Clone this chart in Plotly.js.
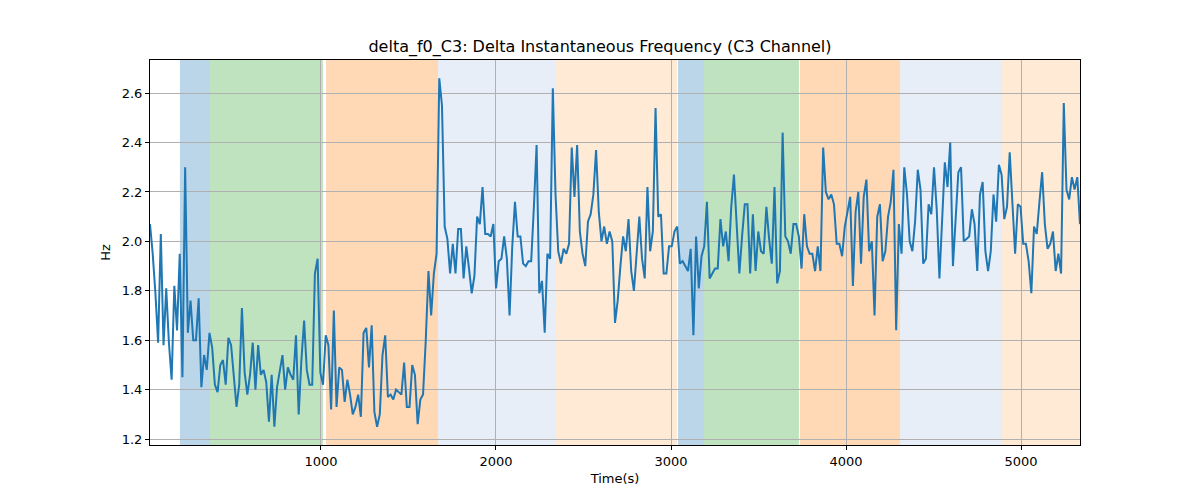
<!DOCTYPE html>
<html>
<head>
<meta charset="utf-8">
<script src="https://cdn.plot.ly/plotly-3.0.1.min.js"></script>
<style>body{margin:0;background:#fff}#chart{width:1200px;height:500px}</style>
</head>
<body>
<div id="chart"></div>
<script>
// delta f0 values (Hz), sampled evenly from T_START to T_END
const T_START = 23, T_END = 5337;
const values = [
  2.07,1.95,1.79,1.59,2.03,1.58,1.81,1.59,1.44,1.82,1.64,1.95,1.45,2.30,1.63,1.76,1.60,1.60,1.77,1.41,
  1.54,1.48,1.63,1.57,1.42,1.39,1.50,1.52,1.42,1.61,1.58,1.44,1.33,1.42,1.73,1.47,1.38,1.46,1.59,1.40,
  1.58,1.46,1.48,1.43,1.27,1.46,1.25,1.41,1.48,1.54,1.40,1.49,1.46,1.44,1.62,1.30,1.52,1.68,1.48,1.42,
  1.42,1.87,1.93,1.47,1.42,1.62,1.58,1.32,1.72,1.33,1.49,1.48,1.35,1.44,1.38,1.30,1.33,1.38,1.29,1.63,
  1.65,1.49,1.66,1.31,1.25,1.30,1.54,
  1.62,1.37,1.38,1.36,1.40,1.39,1.38,1.51,1.33,1.33,1.50,1.46,1.26,1.36,1.38,1.60,1.88,1.70,1.87,1.95,
  2.66,2.55,2.06,2.01,1.87,1.99,1.87,2.05,2.05,1.85,1.98,1.89,1.79,1.86,2.10,2.07,2.22,2.03,2.03,2.02,
  2.07,1.81,1.92,1.93,2.02,1.93,1.70,1.98,2.16,2.02,2.02,1.91,1.90,1.92,1.92,2.14,2.39,1.79,1.84,1.63,
  1.95,1.93,2.62,2.19,1.96,1.91,1.97,1.95,1.99,2.38,2.18,2.39,2.04,1.95,1.90,2.08,2.11,2.19,2.37,2.12,
  2.00,
  2.06,1.99,2.04,2.00,1.67,1.76,1.90,2.02,1.96,2.09,1.88,1.80,1.95,2.10,1.93,1.85,2.22,1.96,2.04,2.54,
  2.10,2.11,1.87,1.87,1.98,1.98,2.04,2.06,1.91,1.92,1.90,1.88,1.97,1.62,2.02,1.81,1.94,1.98,2.16,1.85,
  1.87,1.89,1.89,2.09,1.98,2.04,1.92,2.14,2.27,2.08,1.87,2.02,2.15,2.15,1.87,2.11,1.88,2.04,1.96,1.95,
  2.14,2.01,1.91,2.22,1.83,1.88,2.44,2.02,2.00,1.95,2.07,2.07,2.02,1.89,2.11,1.98,1.95,1.95,1.88,1.98,
  1.88,2.38,2.20,2.17,2.19,
  2.15,1.99,1.99,1.94,2.06,2.12,2.18,1.82,2.12,2.20,1.91,2.18,2.25,1.96,2.00,1.70,2.10,2.15,1.92,1.96,
  2.10,2.16,2.29,1.64,2.07,1.95,2.30,2.19,2.00,1.96,2.08,2.29,2.21,1.91,1.93,2.15,2.11,2.30,2.13,1.85,
  2.08,2.32,2.22,2.40,1.90,2.11,2.28,2.30,2.00,2.01,2.02,2.13,2.07,1.88,2.19,2.24,1.96,1.88,1.96,2.19,
  2.08,2.31,2.27,2.09,2.14,2.36,2.16,1.95,2.15,2.14,1.99,1.99,1.92,1.79,2.06,2.03,2.16,2.28,2.07,1.97,
  1.99,2.04,1.88,1.95,1.87,2.56,2.21,2.17,2.26,2.21,2.26,2.07
];
const times = values.map((v, i) => T_START + i * (T_END - T_START) / (values.length - 1));

// shaded segments
const spanStart = [194, 366, 1029, 1669, 2343, 3040, 3189, 3737, 4309, 4891];
const spanEnd   = [366, 1011, 1669, 2343, 3034, 3189, 3731, 4309, 4891, 5337];
const spanColor = ['rgba(31,119,180,0.3)','rgba(44,160,44,0.3)','rgba(255,127,14,0.3)','rgba(174,199,232,0.3)','rgba(255,187,120,0.3)',
                   'rgba(31,119,180,0.3)','rgba(44,160,44,0.3)','rgba(255,127,14,0.3)','rgba(174,199,232,0.3)','rgba(255,187,120,0.3)'];

const shapes = spanStart.map((s, i) => ({
  type: 'rect', xref: 'x', yref: 'paper', x0: s, x1: spanEnd[i], y0: 0, y1: 1,
  fillcolor: spanColor[i], line: { width: 0 }, layer: 'below'
}));

const font = { family: 'DejaVu Sans, sans-serif', size: 13, color: '#000' };
const ax = {
  showgrid: true, gridcolor: '#b0b0b0', gridwidth: 1, zeroline: false,
  showline: true, linecolor: '#000', linewidth: 1, mirror: true,
  ticks: 'outside', ticklen: 4, tickcolor: '#000', tickfont: { ...font, size: 13 }
};

Plotly.newPlot('chart', [{
  type: 'scatter', mode: 'lines', x: times, y: values,
  line: { color: '#1f77b4', width: 2 }, hoverinfo: 'x+y'
}], {
  width: 1200, height: 500,
  paper_bgcolor: '#fff', plot_bgcolor: 'rgba(0,0,0,0)',
  margin: { l: 150, r: 120, t: 60, b: 55 },
  showlegend: false,
  font: font,
  title: { text: 'delta_f0_C3: Delta Instantaneous Frequency (C3 Channel)', font: { ...font, size: 16 }, x: 0.5, xanchor: 'center', y: 0.908, yanchor: 'middle' },
  xaxis: { ...ax, range: [T_START, T_END], tickvals: [1000, 2000, 3000, 4000, 5000], title: { text: 'Time(s)', font: font, standoff: 6 } },
  yaxis: { ...ax, range: [1.176, 2.734], tickvals: [1.2, 1.4, 1.6, 1.8, 2.0, 2.2, 2.4, 2.6], tickformat: '.1f', title: { text: 'Hz', font: font, standoff: 8 } },
  shapes: shapes
}, { displayModeBar: false });
</script>
</body>
</html>
